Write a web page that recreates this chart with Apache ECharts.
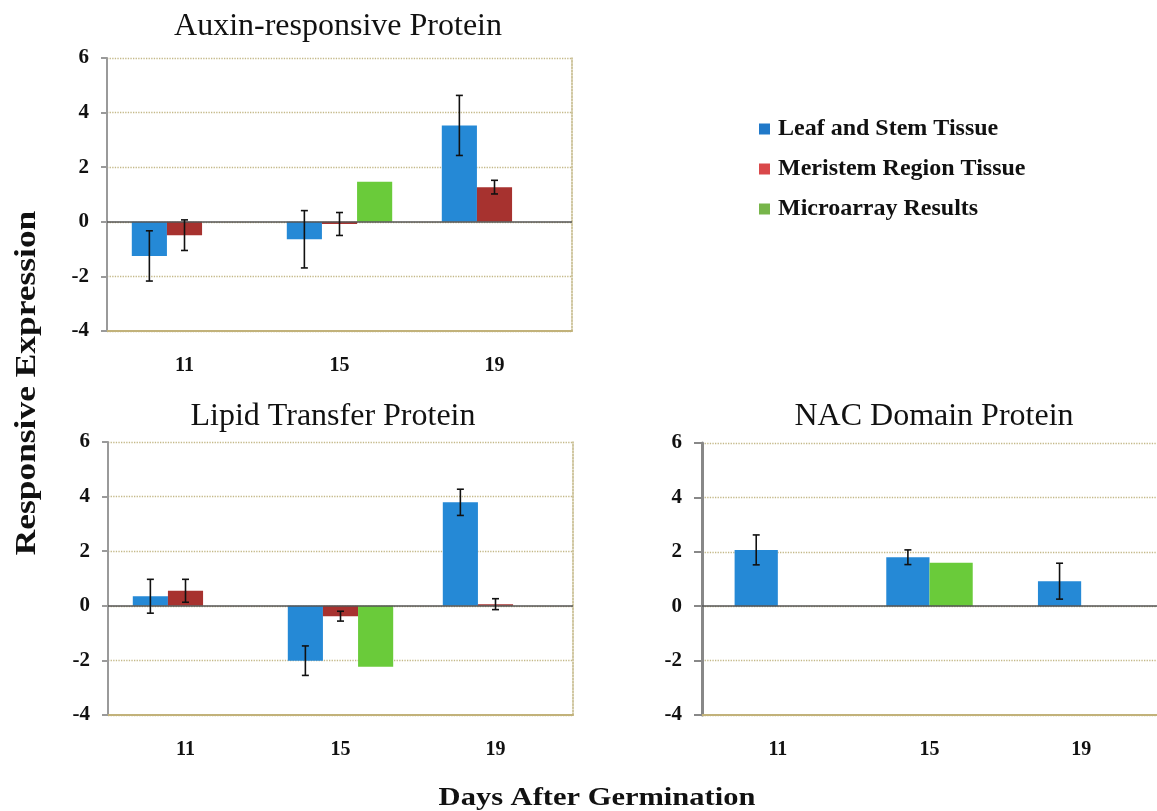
<!DOCTYPE html>
<html><head><meta charset="utf-8">
<script src="https://cdn.jsdelivr.net/npm/echarts@6/dist/echarts.min.js"></script>
<style>html,body{margin:0;padding:0;background:#fff}#c{width:1157px;height:811px}</style>
</head><body><div id="c"></div>
<script>
// ---- data ----
const days = ['11', '15', '19'];
const seriesNames = ['Leaf and Stem Tissue', 'Meristem Region Tissue', 'Microarray Results'];
const panelTitles = ['Auxin-responsive Protein', 'Lipid Transfer Protein', 'NAC Domain Protein'];
const yAxisTitle = 'Responsive Expression';
const xAxisTitle = 'Days After Germination';
const yMin = -4, yMax = 6, yStep = 2;

const auxinLeaf = [-1.25, -0.64, 3.53];
const auxinLeafErr = [0.92, 1.05, 1.10];
const auxinMeristem = [-0.49, -0.08, 1.27];
const auxinMeristemErr = [0.56, 0.42, 0.25];
const auxinMicro = [null, 1.47, null];

const lipidLeaf = [0.35, -2.01, 3.79];
const lipidLeafErr = [0.62, 0.54, 0.48];
const lipidMeristem = [0.55, -0.38, 0.06];
const lipidMeristemErr = [0.42, 0.18, 0.20];
const lipidMicro = [null, -2.23, null];

const nacLeaf = [2.07, 1.80, 0.92];
const nacLeafErr = [0.55, 0.27, 0.66];
const nacMicro = [null, 1.60, null];

// ---- style ----
const FONT = '"Liberation Serif", "DejaVu Serif", serif';
const C_BLUE = '#2589d6', C_RED = '#a7322f', C_GREEN = '#6acb3a';
const GRID_C = '#c4b888', BASE_C = '#c2b27a';

function errData(vals, errs) {
  return vals.map((v, i) => (v == null || errs[i] == null) ? null : [i, v - errs[i], v + errs[i]]);
}
function errRender(slot, nSlots, gapFrac) {
  return function (params, api) {
    const cat = api.value(0), lo = api.value(1), hi = api.value(2);
    const catW = api.size([1, 0])[0];
    const barW = catW * (1 - gapFrac) / nSlots;
    const off = (slot - (nSlots - 1) / 2) * barW;
    const pLo = api.coord([cat, lo]), pHi = api.coord([cat, hi]);
    const x = pLo[0] + off, cap = 3.5;
    const st = { stroke: '#111', lineWidth: 1.6 };
    return { type: 'group', children: [
      { type: 'line', shape: { x1: x, y1: pHi[1], x2: x, y2: pLo[1] }, style: st },
      { type: 'line', shape: { x1: x - cap, y1: pHi[1], x2: x + cap, y2: pHi[1] }, style: st },
      { type: 'line', shape: { x1: x - cap, y1: pLo[1], x2: x + cap, y2: pLo[1] }, style: st }
    ]};
  };
}

const grids = [
  { left: 107, top: 58, width: 465, height: 273 },
  { left: 108, top: 442, width: 465, height: 273 },
  { left: 702, top: 443, width: 465, height: 272 }
];

const xAxes = [], yAxes = [];
grids.forEach((g, gi) => {
  xAxes.push({
    type: 'category', gridIndex: gi, data: days, position: 'bottom',
    axisLine: { onZero: false, lineStyle: { color: BASE_C, width: 2 } },
    axisTick: { show: false },
    axisLabel: { color: '#111', fontFamily: FONT, fontWeight: 'bold', fontSize: 20, margin: 25 }
  });
  yAxes.push({
    type: 'value', gridIndex: gi, min: yMin, max: yMax, interval: yStep, position: 'left',
    axisLine: { show: true, onZero: false, lineStyle: { color: gi === 2 ? '#888' : '#9a9a9a', width: gi === 2 ? 3 : 2 } },
    axisTick: { show: true, length: gi === 2 ? 8 : 6, lineStyle: { color: gi === 2 ? '#888' : '#9a9a9a', width: 2 } },
    axisLabel: { color: '#111', fontFamily: FONT, fontWeight: 'bold', fontSize: 21, margin: gi === 2 ? 20 : 18 },
    splitLine: { show: true, lineStyle: { color: GRID_C, type: 'dotted', width: 1.3 } }
  });
  if (gi < 2) {
    yAxes.push({
      type: 'value', gridIndex: gi, min: yMin, max: yMax, interval: yStep, position: 'right',
      axisLine: { show: true, onZero: false, lineStyle: { color: GRID_C, type: 'dotted', width: 1.6 } },
      axisTick: { show: false }, axisLabel: { show: false }, splitLine: { show: false }
    });
  }
});
const yIdx = [0, 2, 4];

const zeroLine = {
  silent: true, symbol: 'none', label: { show: false },
  lineStyle: { color: '#555', type: 'solid', width: 1.5 },
  data: [{ yAxis: 0 }]
};

function bar(gi, name, color, data, gap, withZero) {
  const s = {
    type: 'bar', name: name, xAxisIndex: gi, yAxisIndex: yIdx[gi], data: data,
    barGap: '0%', barCategoryGap: gap, itemStyle: { color: color }, z: 2
  };
  if (withZero) s.markLine = zeroLine;
  return s;
}
function err(gi, vals, errs, slot, n, gap) {
  return {
    type: 'custom', name: 'err' + gi + '_' + slot, xAxisIndex: gi, yAxisIndex: yIdx[gi],
    data: errData(vals, errs), renderItem: errRender(slot, n, gap), z: 5, silent: true
  };
}

const series = [
  bar(0, seriesNames[0], C_BLUE, auxinLeaf, '32%', true),
  bar(0, seriesNames[1], C_RED, auxinMeristem, '32%'),
  bar(0, seriesNames[2], C_GREEN, auxinMicro, '32%'),
  err(0, auxinLeaf, auxinLeafErr, 0, 3, 0.32),
  err(0, auxinMeristem, auxinMeristemErr, 1, 3, 0.32),

  bar(1, seriesNames[0], C_BLUE, lipidLeaf, '32%', true),
  bar(1, seriesNames[1], C_RED, lipidMeristem, '32%'),
  bar(1, seriesNames[2], C_GREEN, lipidMicro, '32%'),
  err(1, lipidLeaf, lipidLeafErr, 0, 3, 0.32),
  err(1, lipidMeristem, lipidMeristemErr, 1, 3, 0.32),

  bar(2, seriesNames[0], C_BLUE, nacLeaf, '43%', true),
  bar(2, seriesNames[2], C_GREEN, nacMicro, '43%'),
  err(2, nacLeaf, nacLeafErr, 0, 2, 0.43)
];

const titleStyle = { fontFamily: FONT, fontWeight: 'normal', fontSize: 32, color: '#111' };
const option = {
  backgroundColor: '#fff',
  animation: false,
  title: [
    { text: panelTitles[0], left: 333, top: 6, textAlign: 'center', textStyle: titleStyle },
    { text: panelTitles[1], left: 328, top: 396, textAlign: 'center', textStyle: titleStyle },
    { text: panelTitles[2], left: 929, top: 396, textAlign: 'center', textStyle: titleStyle }
  ],
  legend: {
    orient: 'vertical', left: 754, top: 112, itemGap: 16, itemWidth: 11, itemHeight: 11,
    icon: 'rect', selectedMode: false,
    textStyle: { fontFamily: FONT, fontWeight: 'bold', fontSize: 24, color: '#111', padding: [0, 0, 0, 3] },
    data: [
      { name: seriesNames[0], itemStyle: { color: '#2079c9' } },
      { name: seriesNames[1], itemStyle: { color: '#d9484a' } },
      { name: seriesNames[2], itemStyle: { color: '#77b54a' } }
    ]
  },
  graphic: [
    { type: 'text', x: 27, y: 383, rotation: Math.PI / 2, scaleX: 1.18,
      style: { text: yAxisTitle, font: 'bold 30px ' + FONT, fill: '#111', textAlign: 'center', textVerticalAlign: 'middle' } },
    { type: 'text', x: 597, y: 799, scaleX: 1.22,
      style: { text: xAxisTitle, font: 'bold 25px ' + FONT, fill: '#111', textAlign: 'center', textVerticalAlign: 'middle' } }
  ],
  grid: grids,
  xAxis: xAxes,
  yAxis: yAxes,
  series: series
};
const chart = echarts.init(document.getElementById('c'), null, { renderer: 'canvas' });
chart.setOption(option);
</script>
</body></html>
